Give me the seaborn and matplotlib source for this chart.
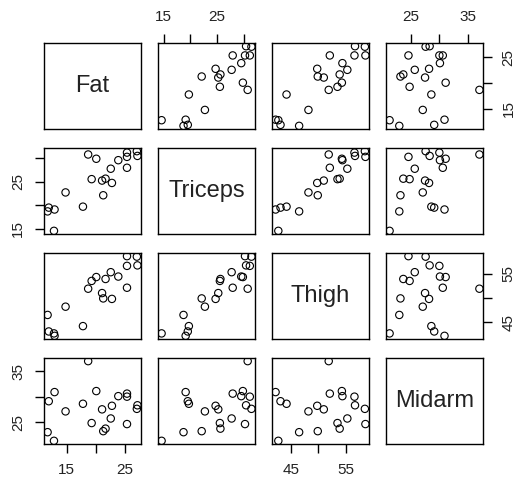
import matplotlib
matplotlib.use("Agg")
import matplotlib.pyplot as plt
import seaborn as sns
import pandas as pd

# Body fat data (20 subjects)
triceps = [19.5, 24.7, 30.7, 29.8, 19.1, 25.6, 31.4, 27.9, 22.1, 25.5,
           31.1, 30.4, 18.7, 19.7, 14.6, 29.5, 27.7, 30.2, 22.7, 25.2]
thigh = [43.1, 49.8, 51.9, 54.3, 42.2, 53.9, 58.5, 52.1, 49.9, 53.5,
         56.6, 56.7, 46.5, 44.2, 42.7, 54.4, 55.3, 58.6, 48.2, 51.0]
midarm = [29.1, 28.2, 37.0, 31.1, 30.9, 23.7, 27.6, 30.6, 23.2, 24.8,
          30.0, 28.3, 23.0, 28.6, 21.3, 30.1, 25.7, 24.6, 27.1, 27.5]
fat = [11.9, 22.8, 18.7, 20.1, 12.9, 21.7, 27.1, 25.4, 21.3, 19.3,
       25.4, 27.2, 11.7, 17.8, 12.8, 23.9, 22.6, 25.4, 14.8, 21.1]

var_names = ["Fat", "Triceps", "Thigh", "Midarm"]
tick_values = {
    "Fat": [15, 20, 25],
    "Triceps": [15, 20, 25, 30],
    "Thigh": [45, 50, 55],
    "Midarm": [25, 30, 35],
}
tick_labels = {
    "Fat": ["15", "", "25"],
    "Triceps": ["15", "", "25", ""],
    "Thigh": ["45", "", "55"],
    "Midarm": ["25", "", "35"],
}

df = pd.DataFrame({"Fat": fat, "Triceps": triceps, "Thigh": thigh, "Midarm": midarm})

plt.rcParams["font.family"] = ["Liberation Sans", "DejaVu Sans"]
plt.rcParams["axes.linewidth"] = 1.0

g = sns.PairGrid(df, vars=var_names, despine=False)
g.map_offdiag(sns.scatterplot, facecolor="none", edgecolor="black",
              linewidth=0.8, s=28)

fig = g.figure
fig.set_size_inches(5.21, 4.87)
fig.subplots_adjust(left=44 / 521, right=483 / 521, top=1 - 43 / 487,
                    bottom=1 - 444 / 487, wspace=0.175, hspace=0.22)

n = len(var_names)
def lim(v):
    lo, hi = min(df[v]), max(df[v])
    pad = (hi - lo) * 0.04
    return lo - pad, hi + pad

for i in range(n):
    for j in range(n):
        ax = g.axes[i, j]
        ax.set_xlabel("")
        ax.set_ylabel("")
        ax.set_xlim(*lim(var_names[j]))
        ax.set_ylim(*lim(var_names[i]))
        for sp in ax.spines.values():
            sp.set_visible(True)
            sp.set_color("black")
            sp.set_linewidth(1.0)
        ax.tick_params(which="both", left=False, right=False, top=False,
                       bottom=False, labelleft=False, labelright=False,
                       labeltop=False, labelbottom=False, length=6.5,
                       width=1.0, pad=7, labelsize=11, direction="out",
                       labelcolor="#222222")

for j in range(n):
    ax = g.axes[0, j]
    ax.set_xticks(tick_values[var_names[j]])
    ax.set_xticklabels(tick_labels[var_names[j]])
for i in range(n):
    ax = g.axes[i, 0]
    ax.set_yticks(tick_values[var_names[i]])
    ax.set_yticklabels(tick_labels[var_names[i]])

for j in range(n):
    if j % 2 == 1:
        g.axes[0, j].tick_params(top=True, labeltop=True)
    else:
        g.axes[n - 1, j].tick_params(bottom=True, labelbottom=True)
for i in range(n):
    if i % 2 == 1:
        ax = g.axes[i, 0]
        ax.tick_params(left=True, labelleft=True)
    else:
        ax = g.axes[i, n - 1]
        ax.tick_params(right=True, labelright=True)

for i in range(n):
    for j in range(n):
        ax = g.axes[i, j]
        ax.tick_params(axis="y", labelrotation=90)
        for lbl in ax.get_yticklabels():
            lbl.set_va("center")

for k, v in enumerate(var_names):
    ax = g.axes[k, k]
    ax.text(0.5, 0.5, v, transform=ax.transAxes, ha="center", va="center",
            fontsize=17, color="#222222")

fig.savefig("out.png", dpi=100)
